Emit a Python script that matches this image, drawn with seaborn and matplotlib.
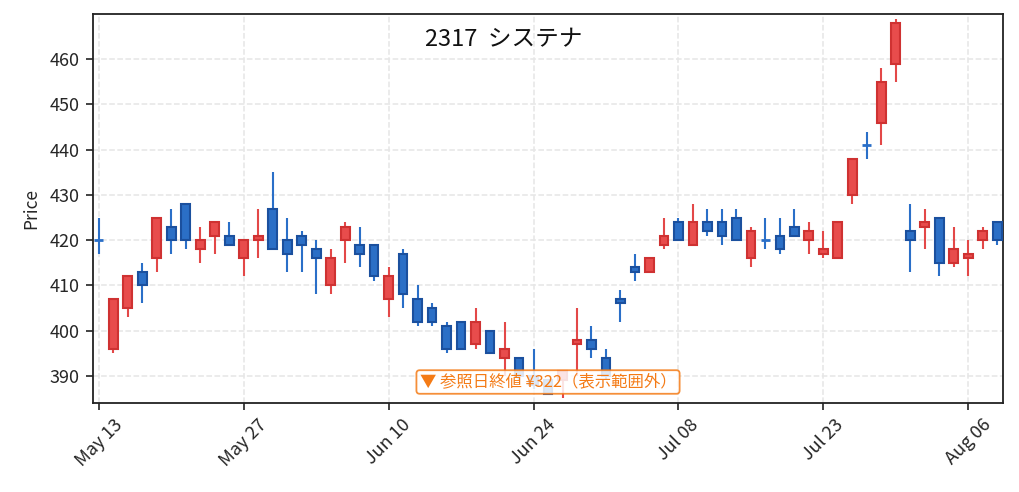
import matplotlib
matplotlib.use("Agg")
import matplotlib.pyplot as plt
import seaborn as sns
import numpy as np

# 2317 システナ daily candles (JP trading days, 2024-05-13 .. 2024-08-08)
dates = ["May 13", "May 14", "May 15", "May 16", "May 17",
         "May 20", "May 21", "May 22", "May 23", "May 24",
         "May 27", "May 28", "May 29", "May 30", "May 31",
         "Jun 03", "Jun 04", "Jun 05", "Jun 06", "Jun 07",
         "Jun 10", "Jun 11", "Jun 12", "Jun 13", "Jun 14",
         "Jun 17", "Jun 18", "Jun 19", "Jun 20", "Jun 21",
         "Jun 24", "Jun 25", "Jun 26", "Jun 27", "Jun 28",
         "Jul 01", "Jul 02", "Jul 03", "Jul 04", "Jul 05",
         "Jul 08", "Jul 09", "Jul 10", "Jul 11", "Jul 12",
         "Jul 16", "Jul 17", "Jul 18", "Jul 19",
         "Jul 22", "Jul 23", "Jul 24", "Jul 25", "Jul 26",
         "Jul 29", "Jul 30", "Jul 31", "Aug 01", "Aug 02",
         "Aug 05", "Aug 06", "Aug 07", "Aug 08"]

opens = [420, 396, 405, 413, 416, 423, 428, 418, 421, 421,
         416, 420, 427, 420, 421, 418, 410, 420, 419, 419,
         407, 417, 407, 405, 401, 402, 397, 400, 394, 394,
         390, 389, 389, 397, 398, 394, 407, 414, 413, 419,
         424, 419, 424, 424, 425, 416, 420, 421, 423, 420,
         417, 416, 430, 441, 446, 459, 422, 423, 425, 415,
         416, 420, 424]
highs = [425, 407, 412, 415, 425, 427, 428, 423, 424, 424,
         420, 427, 435, 425, 422, 420, 418, 424, 423, 419,
         414, 418, 410, 406, 402, 402, 405, 400, 402, 394,
         396, 389, 391, 405, 401, 396, 409, 417, 416, 425,
         425, 428, 427, 427, 427, 423, 425, 425, 427, 424,
         422, 424, 438, 444, 458, 469, 428, 427, 425, 423,
         420, 423, 424]
lows = [417, 395, 403, 406, 413, 417, 418, 415, 417, 419,
        412, 416, 418, 413, 413, 408, 408, 415, 414, 411,
        403, 405, 401, 401, 395, 396, 396, 395, 390, 389,
        387, 386, 385, 390, 394, 389, 402, 411, 413, 418,
        420, 419, 421, 419, 420, 414, 418, 417, 421, 417,
        416, 416, 428, 438, 441, 455, 413, 418, 412, 414,
        412, 418, 419]
closes = [420, 407, 412, 410, 425, 420, 420, 420, 424, 419,
          420, 421, 418, 417, 419, 416, 416, 423, 417, 412,
          412, 408, 402, 402, 396, 396, 402, 395, 396, 390,
          388, 386, 391, 398, 396, 390, 406, 413, 416, 421,
          420, 424, 422, 421, 420, 422, 420, 418, 421, 422,
          418, 424, 438, 441, 455, 468, 420, 424, 415, 418,
          417, 422, 420]

title = "2317  システナ"
note = "▼ 参照日終値 ¥322（表示範囲外）"

sns.set_theme(style="white")
plt.rcParams["font.family"] = ["Noto Sans CJK JP", "DejaVu Sans"]

UP_FACE, UP_EDGE, UP_WICK = "#e84c4c", "#cf3232", "#e34848"
DN_FACE, DN_EDGE, DN_WICK = "#2b6fc6", "#1b509e", "#2a6fc8"

fig = plt.figure(figsize=(10.19, 4.92), dpi=100)
ax = fig.add_axes([0.0913, 0.1809, 0.8930, 0.7906])

o = np.array(opens, dtype=float)
h = np.array(highs, dtype=float)
l = np.array(lows, dtype=float)
c = np.array(closes, dtype=float)
x = np.arange(len(o))
up = c > o
doji = c == o

# wicks
ax.vlines(x[up], l[up], h[up], color=UP_WICK, lw=1.5, zorder=2)
ax.vlines(x[~up], l[~up], h[~up], color=DN_WICK, lw=1.5, zorder=2)

# bodies
w = 0.6
body_lo = np.minimum(o, c)
body_h = np.abs(c - o)
m = up
ax.bar(x[m], body_h[m], w, bottom=body_lo[m], color=UP_FACE,
       edgecolor=UP_EDGE, linewidth=1.5, zorder=3)
m = (~up) & (~doji)
ax.bar(x[m], body_h[m], w, bottom=body_lo[m], color=DN_FACE,
       edgecolor=DN_EDGE, linewidth=1.5, zorder=3)
ax.hlines(o[doji], x[doji] - w / 2, x[doji] + w / 2, color=DN_WICK,
          lw=2, zorder=3)

ax.set_xlim(-0.4, len(o) - 1 + 0.4)
ax.set_ylim(384, 470)
ax.set_yticks(np.arange(390, 461, 10))
ticks = list(range(0, len(o), 10))
ax.set_xticks(ticks)
ax.set_xticklabels([dates[i] for i in ticks], rotation=45, fontsize=13)
ax.tick_params(axis="both", direction="out", length=5, width=1.2,
               color="#222222", bottom=True, left=True)
ax.tick_params(axis="x", pad=4)
ax.tick_params(axis="y", labelsize=13, pad=4.5)
ax.set_ylabel("Price", fontsize=12.5, labelpad=7)

ax.grid(True, linestyle="--", color="#e6e6e6", linewidth=1.1)
ax.set_axisbelow(True)
for s in ax.spines.values():
    s.set_color("#222222")
    s.set_linewidth(1.3)

ax.text(0.4516, 0.935, title, transform=ax.transAxes, ha="center",
        va="center", fontsize=17, color="#111111")
ax.text(0.5, 0.054, note, transform=ax.transAxes, ha="center",
        va="center", fontsize=11.8, color="#f47b16", zorder=5,
        bbox=dict(boxstyle="round,pad=0.2", fc="white", alpha=0.85,
                  ec="#f47b16", lw=1.3))

fig.savefig("out.png", dpi=100)
